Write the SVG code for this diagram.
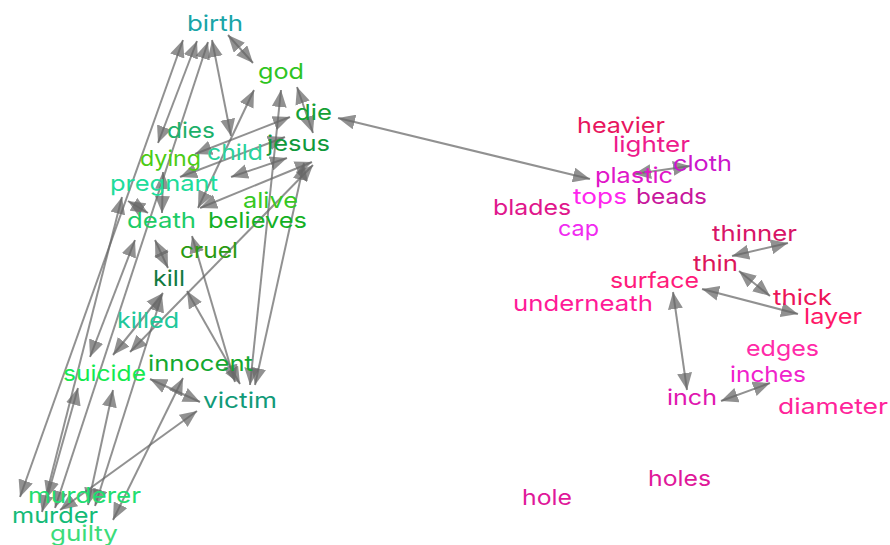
<svg xmlns="http://www.w3.org/2000/svg" width="890" height="545" viewBox="0 0 890 545">
  <style>
    text { font-family: Inter, "DejaVu Sans", "Liberation Sans", sans-serif; font-size: 22px; font-weight: 400; }
    .e line { stroke: #666; stroke-opacity: 0.72; stroke-width: 2; fill: none; marker-start: url(#ah); marker-end: url(#ah); }
  </style>
  <defs>
    <marker id="ah" viewBox="0 0 17 15" refX="17" refY="7.5" markerWidth="17" markerHeight="15" markerUnits="userSpaceOnUse" orient="auto-start-reverse">
      <path d="M0,0 L17,7.5 L0,15 z" fill="#666" fill-opacity="0.72"/>
    </marker>
  </defs>
  <rect width="890" height="545" fill="#fff"/>

  <!-- connectors -->
  <g id="connectors" class="e">
    <!-- right cluster -->
    <line x1="338" y1="118" x2="590" y2="179"/>
    <line x1="634" y1="174" x2="690" y2="166"/>
    <line x1="732" y1="256" x2="788" y2="243"/>
    <line x1="739" y1="271" x2="770" y2="296"/>
    <line x1="702" y1="289" x2="798" y2="314"/>
    <line x1="673" y1="292" x2="687" y2="390"/>
    <line x1="721" y1="401" x2="770" y2="383"/>
    <!-- left cluster -->
    <line x1="228" y1="35" x2="253" y2="63"/>
    <line x1="183" y1="40" x2="20" y2="497"/>
    <line x1="197" y1="41" x2="158" y2="143"/>
    <line x1="212" y1="40" x2="231" y2="136"/>
    <line x1="208" y1="42" x2="55" y2="508"/>
    <line x1="254" y1="90" x2="198" y2="208"/>
    <line x1="281" y1="90" x2="250" y2="385"/>
    <line x1="297" y1="87" x2="313" y2="133"/>
    <line x1="195" y1="154" x2="290" y2="117"/>
    <line x1="312" y1="162" x2="200" y2="208"/>
    <line x1="285" y1="137" x2="180" y2="177"/>
    <line x1="287" y1="158" x2="231" y2="177"/>
    <line x1="163" y1="172" x2="162" y2="213"/>
    <line x1="122" y1="197" x2="42" y2="512"/>
    <line x1="128" y1="201" x2="148" y2="213"/>
    <line x1="135" y1="240" x2="90" y2="357"/>
    <line x1="155" y1="240" x2="168" y2="268"/>
    <line x1="163" y1="293" x2="113" y2="355"/>
    <line x1="192" y1="236" x2="235" y2="382"/>
    <line x1="187" y1="291" x2="240" y2="384"/>
    <line x1="130" y1="352" x2="313" y2="165"/>
    <line x1="304" y1="163" x2="255" y2="385"/>
    <line x1="47" y1="498" x2="78" y2="388"/>
    <line x1="88" y1="505" x2="113" y2="390"/>
    <line x1="113" y1="520" x2="183" y2="378"/>
    <line x1="60" y1="510" x2="197" y2="411"/>
    <line x1="150" y1="379" x2="200" y2="402"/>
    <line x1="162" y1="295" x2="95" y2="506"/>
  </g>

  <!-- word nodes -->
  <g id="birth"><text x="187" y="31" textLength="56" lengthAdjust="spacingAndGlyphs" fill="#19a5a8">birth</text></g>
  <g id="god"><text x="258" y="79" textLength="46" lengthAdjust="spacingAndGlyphs" fill="#2ec41f">god</text></g>
  <g id="die"><text x="295" y="120" textLength="37" lengthAdjust="spacingAndGlyphs" fill="#15a035">die</text></g>
  <g id="dies"><text x="167" y="138" textLength="48" lengthAdjust="spacingAndGlyphs" fill="#1cb06a">dies</text></g>
  <g id="jesus"><text x="267" y="151" textLength="63" lengthAdjust="spacingAndGlyphs" fill="#10993b">jesus</text></g>
  <g id="child"><text x="207" y="160" textLength="56" lengthAdjust="spacingAndGlyphs" fill="#2bd19b">child</text></g>
  <g id="dying"><text x="140" y="166" textLength="61" lengthAdjust="spacingAndGlyphs" fill="#4ccc14">dying</text></g>
  <g id="pregnant"><text x="110" y="191" textLength="108" lengthAdjust="spacingAndGlyphs" fill="#20dc9a">pregnant</text></g>
  <g id="alive"><text x="243" y="208" textLength="55" lengthAdjust="spacingAndGlyphs" fill="#36c81f">alive</text></g>
  <g id="death"><text x="127" y="228" textLength="69" lengthAdjust="spacingAndGlyphs" fill="#1ccc66">death</text></g>
  <g id="believes"><text x="208" y="228" textLength="99" lengthAdjust="spacingAndGlyphs" fill="#14b025">believes</text></g>
  <g id="cruel"><text x="180" y="258" textLength="58" lengthAdjust="spacingAndGlyphs" fill="#2a9a12">cruel</text></g>
  <g id="kill"><text x="153" y="286" textLength="32" lengthAdjust="spacingAndGlyphs" fill="#137a3f">kill</text></g>
  <g id="killed"><text x="117" y="328" textLength="62" lengthAdjust="spacingAndGlyphs" fill="#20c79a">killed</text></g>
  <g id="innocent"><text x="148" y="371" textLength="105" lengthAdjust="spacingAndGlyphs" fill="#14a830">innocent</text></g>
  <g id="suicide"><text x="63" y="381" textLength="83" lengthAdjust="spacingAndGlyphs" fill="#14ea50">suicide</text></g>
  <g id="victim"><text x="203" y="408" textLength="74" lengthAdjust="spacingAndGlyphs" fill="#119a78">victim</text></g>
  <g id="murderer"><text x="28" y="503" textLength="113" lengthAdjust="spacingAndGlyphs" fill="#22dd70">murderer</text></g>
  <g id="murder"><text x="12" y="523" textLength="86" lengthAdjust="spacingAndGlyphs" fill="#14bb77">murder</text></g>
  <g id="guilty"><text x="50" y="541" textLength="68" lengthAdjust="spacingAndGlyphs" fill="#3bdc7a">guilty</text></g>

  <g id="heavier"><text x="577" y="133" textLength="88" lengthAdjust="spacingAndGlyphs" fill="#e8155e">heavier</text></g>
  <g id="lighter"><text x="613" y="152" textLength="77" lengthAdjust="spacingAndGlyphs" fill="#ee1a8c">lighter</text></g>
  <g id="cloth"><text x="673" y="171" textLength="59" lengthAdjust="spacingAndGlyphs" fill="#cc16cc">cloth</text></g>
  <g id="plastic"><text x="595" y="183" textLength="78" lengthAdjust="spacingAndGlyphs" fill="#e016c8">plastic</text></g>
  <g id="tops"><text x="573" y="204" textLength="54" lengthAdjust="spacingAndGlyphs" fill="#ff26ee">tops</text></g>
  <g id="beads"><text x="636" y="204" textLength="71" lengthAdjust="spacingAndGlyphs" fill="#c8169c">beads</text></g>
  <g id="blades"><text x="493" y="215" textLength="78" lengthAdjust="spacingAndGlyphs" fill="#e0168c">blades</text></g>
  <g id="cap"><text x="558" y="236" textLength="41" lengthAdjust="spacingAndGlyphs" fill="#f02af0">cap</text></g>
  <g id="thinner"><text x="712" y="241" textLength="85" lengthAdjust="spacingAndGlyphs" fill="#d81466">thinner</text></g>
  <g id="thin"><text x="693" y="271" textLength="45" lengthAdjust="spacingAndGlyphs" fill="#dc145a">thin</text></g>
  <g id="surface"><text x="610" y="288" textLength="89" lengthAdjust="spacingAndGlyphs" fill="#ff1a7a">surface</text></g>
  <g id="thick"><text x="773" y="305" textLength="59" lengthAdjust="spacingAndGlyphs" fill="#ec1458">thick</text></g>
  <g id="underneath"><text x="513" y="311" textLength="140" lengthAdjust="spacingAndGlyphs" fill="#ff1a98">underneath</text></g>
  <g id="layer"><text x="804" y="324" textLength="58" lengthAdjust="spacingAndGlyphs" fill="#ff1868">layer</text></g>
  <g id="edges"><text x="746" y="356" textLength="73" lengthAdjust="spacingAndGlyphs" fill="#ff2aa8">edges</text></g>
  <g id="inches"><text x="730" y="382" textLength="76" lengthAdjust="spacingAndGlyphs" fill="#f022cc">inches</text></g>
  <g id="inch"><text x="667" y="405" textLength="50" lengthAdjust="spacingAndGlyphs" fill="#e016b0">inch</text></g>
  <g id="diameter"><text x="778" y="414" textLength="110" lengthAdjust="spacingAndGlyphs" fill="#ff249a">diameter</text></g>
  <g id="holes"><text x="648" y="486" textLength="63" lengthAdjust="spacingAndGlyphs" fill="#e0189a">holes</text></g>
  <g id="hole"><text x="522" y="505" textLength="50" lengthAdjust="spacingAndGlyphs" fill="#e0189a">hole</text></g>
</svg>
